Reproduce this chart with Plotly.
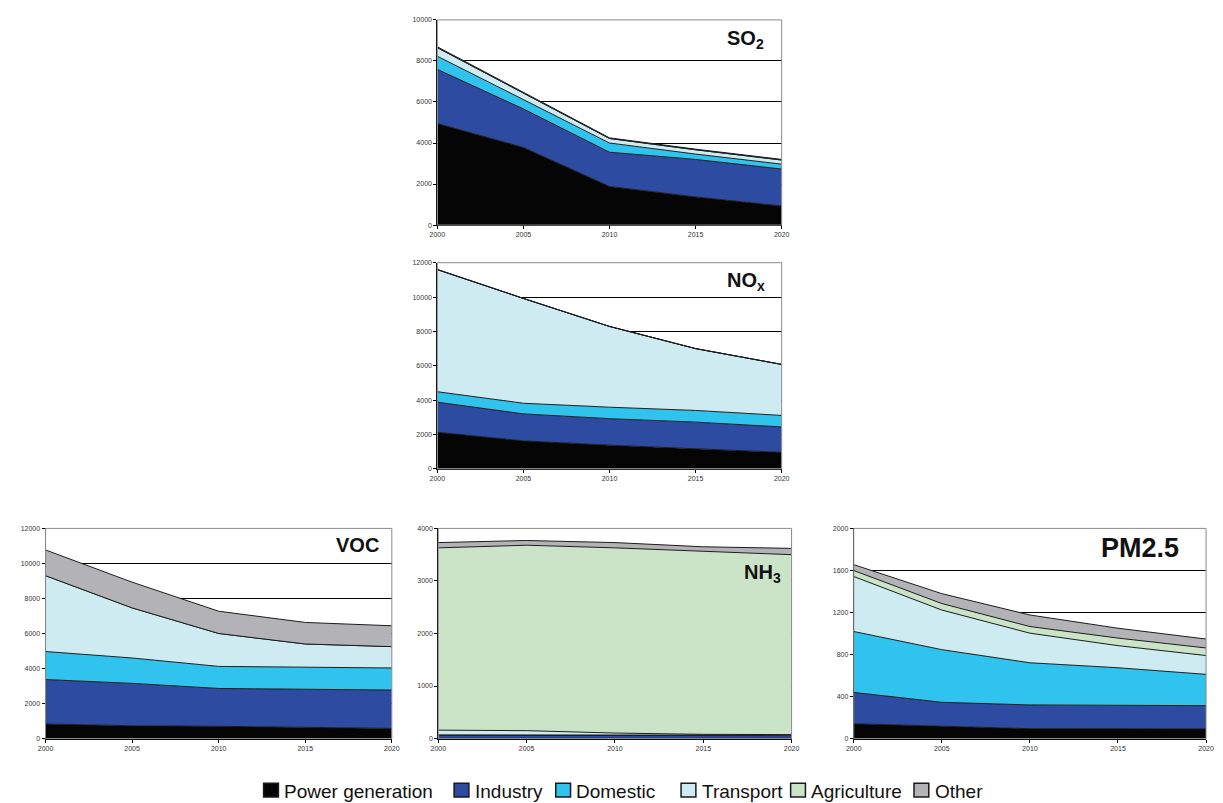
import plotly.graph_objects as go

# Emission projections by sector (kt), 2000-2020
years = [2000, 2005, 2010, 2015, 2020]
sectors = ["Power generation", "Industry", "Domestic", "Transport", "Agriculture", "Other"]

so2_power = [4950, 3780, 1880, 1370, 930]
so2_industry = [2640, 1880, 1670, 1830, 1800]
so2_domestic = [640, 440, 450, 260, 240]
so2_transport = [420, 330, 220, 210, 200]
so2_agriculture = [0, 0, 0, 0, 0]
so2_other = [40, 40, 30, 30, 30]

nox_power = [2130, 1630, 1380, 1190, 960]
nox_industry = [1750, 1570, 1540, 1530, 1480]
nox_domestic = [610, 620, 670, 680, 670]
nox_transport = [7110, 6100, 4700, 3600, 2970]
nox_agriculture = [0, 0, 0, 0, 0]
nox_other = [0, 0, 0, 0, 0]

voc_power = [830, 730, 700, 640, 580]
voc_industry = [2540, 2420, 2160, 2170, 2190]
voc_domestic = [1600, 1450, 1260, 1260, 1260]
voc_transport = [4330, 2860, 1880, 1330, 1220]
voc_agriculture = [0, 0, 0, 0, 0]
voc_other = [1470, 1470, 1270, 1230, 1190]

nh3_power = [5, 5, 5, 5, 5]
nh3_industry = [55, 55, 55, 50, 50]
nh3_domestic = [10, 10, 10, 10, 10]
nh3_transport = [90, 80, 35, 15, 10]
nh3_agriculture = [3470, 3530, 3525, 3480, 3425]
nh3_other = [100, 90, 100, 90, 120]

pm_power = [141, 116, 94, 94, 91]
pm_industry = [298, 229, 226, 219, 222]
pm_domestic = [580, 501, 401, 361, 298]
pm_transport = [523, 377, 282, 210, 179]
pm_agriculture = [57, 62, 63, 72, 72]
pm_other = [56, 94, 110, 94, 85]

colors = ["#050505", "#2d4ba0", "#2fc3ee", "#cdebf0", "#cbe4c8", "#b3b3b7"]

panels = [
    dict(label="<b>SO<sub>2</sub></b>", size=20,
         data=[so2_power, so2_industry, so2_domestic, so2_transport, so2_agriculture, so2_other],
         ymax=10000, dtick=2000, xd=[0.3557, 0.641], yd=[0.7223, 0.980], lx=0.955, ly=0.905),
    dict(label="<b>NO<sub>x</sub></b>", size=20,
         data=[nox_power, nox_industry, nox_domestic, nox_transport, nox_agriculture, nox_other],
         ymax=12000, dtick=2000, xd=[0.3557, 0.641], yd=[0.416, 0.675], lx=0.957, ly=0.91),
    dict(label="<b>VOC</b>", size=20,
         data=[voc_power, voc_industry, voc_domestic, voc_transport, voc_agriculture, voc_other],
         ymax=12000, dtick=2000, xd=[0.0311, 0.318], yd=[0.0772, 0.3412], lx=0.97, ly=0.92),
    dict(label="<b>NH<sub>3</sub></b>", size=20,
         data=[nh3_power, nh3_industry, nh3_domestic, nh3_transport, nh3_agriculture, nh3_other],
         ymax=4000, dtick=1000, xd=[0.3565, 0.6492], yd=[0.0772, 0.3412], lx=0.976, ly=0.785),
    dict(label="<b>PM2.5</b>", size=27,
         data=[pm_power, pm_industry, pm_domestic, pm_transport, pm_agriculture, pm_other],
         ymax=2000, dtick=400, xd=[0.7007, 0.9926], yd=[0.0772, 0.3412], lx=0.928, ly=0.905),
]

fig = go.Figure()
annotations = []
shapes = []
tickfont = dict(family="Liberation Sans, Arial", size=7, color="#333333")

for i, p in enumerate(panels):
    n = "" if i == 0 else str(i + 1)
    xa, ya = "x" + n, "y" + n
    for s, vals in enumerate(p["data"]):
        fig.add_trace(go.Scatter(
            x=years, y=vals, xaxis=xa, yaxis=ya, stackgroup="g" + str(i),
            mode="lines", line=dict(color="#1c1c1c", width=1),
            fillcolor=colors[s], showlegend=False, hoverinfo="skip", name=sectors[s]))
    fig.layout["xaxis" + n] = dict(
        domain=p["xd"], anchor=ya, range=[2000, 2020], tickvals=years,
        ticks="outside", ticklen=3, tickcolor="#000", showline=True, linecolor="#000",
        showgrid=False, zeroline=False, tickfont=tickfont)
    fig.layout["yaxis" + n] = dict(
        domain=p["yd"], anchor=xa, range=[0, p["ymax"]], dtick=p["dtick"], tickformat="d",
        ticks="outside", ticklen=3, tickcolor="#000", showline=True, linecolor="#000",
        showgrid=True, gridcolor="#000", gridwidth=1, zeroline=False, tickfont=tickfont)
    shapes.append(dict(type="rect", xref=xa + " domain", yref=ya + " domain",
                       x0=0, x1=1, y0=0, y1=1, line=dict(color="#8a8a8a", width=1)))
    annotations.append(dict(text=p["label"], xref=xa + " domain", yref=ya + " domain",
                            x=p["lx"], y=p["ly"], xanchor="right", yanchor="middle",
                            showarrow=False,
                            font=dict(family="Liberation Sans, Arial", size=p["size"], color="#111")))

# Legend row along the bottom: outlined colour squares followed by sector names
legend_left_px = [259, 452, 555, 682, 793, 918]
W, H = 1223, 803
legend_y_px = 793
for s, name in enumerate(sectors):
    shapes.append(dict(type="rect", xref="paper", yref="paper",
                       x0=legend_left_px[s] / W, x1=(legend_left_px[s] + 15) / W,
                       y0=1 - (legend_y_px + 7) / H, y1=1 - (legend_y_px - 7) / H,
                       fillcolor=colors[s], line=dict(color="#1a1a1a", width=1.5)))
    annotations.append(dict(text=name, xref="paper", yref="paper",
                            x=(legend_left_px[s] + 19) / W, y=1 - (legend_y_px + 1) / H,
                            xanchor="left", yanchor="middle", showarrow=False,
                            font=dict(family="Liberation Sans, Arial", size=19, color="#111")))

fig.update_layout(
    width=W, height=H, margin=dict(l=0, r=0, t=0, b=0),
    paper_bgcolor="white", plot_bgcolor="white",
    annotations=annotations, shapes=shapes, showlegend=False,
)

# Page without body margin so the figure sits flush in the window
fig.write_html("out.html",
               post_script="document.body.style.margin='0';document.body.style.overflow='hidden';")
